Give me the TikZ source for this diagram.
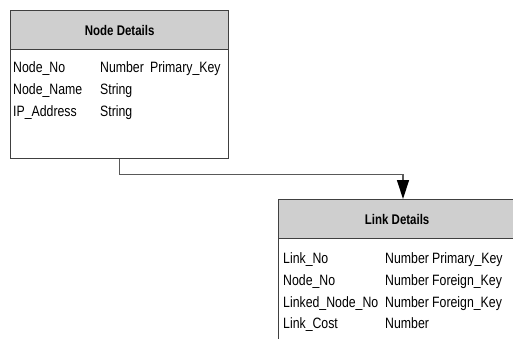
\documentclass[tikz,border=0pt]{standalone}
\usepackage{fontspec}
\setmainfont{Liberation Sans}[FakeStretch=0.82]
\usetikzlibrary{arrows.meta}

% one attribute line: name, type and key in fixed columns
\newcommand{\attrrow}[5]{\makebox[#1][l]{#3}\makebox[#2][l]{#4}#5}

\begin{document}
\begin{tikzpicture}[x=1pt,y=-1pt,
    entitybox/.style={draw=black!75, line width=1.3pt, fill=white, minimum height=148pt,
        anchor=north west, inner sep=0pt},
    entityhead/.style={draw=black!75, line width=1.3pt, fill=black!19, minimum height=39pt,
        anchor=north west, inner sep=0pt, font=\fontsize{14}{17}\selectfont\bfseries},
    attr/.style={anchor=base west, inner sep=0pt, font=\fontsize{15}{18}\selectfont},
    relation/.style={draw=black!65, line width=1.3pt,
        -{Triangle[length=19pt,width=12pt,black]}}]
    \clip (0,0) rectangle (513,339);

    % Node Details table
    \node[entitybox, minimum width=218pt] (nodebox) at (10,10) {};
    \node[entityhead, minimum width=218pt] (nodehead) at (nodebox.north west) {Node Details};
    \node[attr] (nrow1) at (13,73)  {\attrrow{87pt}{50pt}{Node\_No}{Number}{Primary\_Key}};
    \node[attr] (nrow2) at (13,95)  {\attrrow{87pt}{50pt}{Node\_Name}{String}{}};
    \node[attr] (nrow3) at (13,117) {\attrrow{87pt}{50pt}{IP\_Address}{String}{}};

    % Link Details table
    \node[entitybox, minimum width=237pt] (linkbox) at (278,199) {};
    \node[entityhead, minimum width=237pt] (linkhead) at (linkbox.north west) {Link Details};
    \node[attr] (lrow1) at (283,263) {\attrrow{102pt}{47pt}{Link\_No}{Number}{Primary\_Key}};
    \node[attr] (lrow2) at (283,285) {\attrrow{102pt}{47pt}{Node\_No}{Number}{Foreign\_Key}};
    \node[attr] (lrow3) at (283,307) {\attrrow{102pt}{47pt}{Linked\_Node\_No}{Number}{Foreign\_Key}};
    \node[attr] (lrow4) at (283,328) {\attrrow{102pt}{47pt}{Link\_Cost}{Number}{}};

    % relation between the tables
    \coordinate (linkin) at ([xshift=125pt]linkbox.north west);
    \draw[relation] (nodebox.south) -- ++(0,15) -| (linkin);
\end{tikzpicture}
\end{document}
